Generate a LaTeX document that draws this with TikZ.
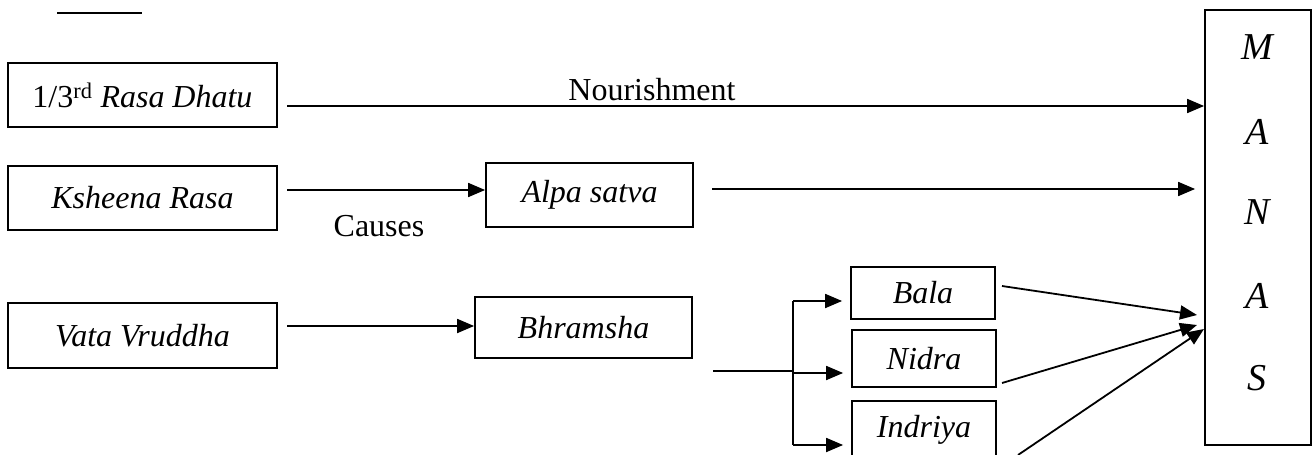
\documentclass[tikz,border=0pt]{standalone}
\usepackage{fontspec}
\setmainfont{Liberation Serif}
\usetikzlibrary{arrows.meta}
\begin{document}
\begin{tikzpicture}[x=1pt,y=-1pt,
  box/.style={draw, line width=1.8pt, inner sep=0pt,
    font=\fontsize{32}{38}\selectfont\itshape},
  lbl/.style={inner sep=0pt, font=\fontsize{32}{38}\selectfont},
  letter/.style={inner sep=0pt, font=\fontsize{38}{44}\selectfont\itshape},
  arr/.style={line width=1.8pt, -{Triangle[length=17pt,width=14pt]}},
  ln/.style={line width=1.8pt}]
\useasboundingbox (0,0) rectangle (1315,455);

% short rule at the top left
\coordinate (ul1) at (57,13);
\coordinate (ul2) at (142,13);
\draw[line width=1.5pt] (ul1) -- (ul2);

% left column
\node[box, minimum width=269pt, minimum height=64pt] (rasa) at (142.5,95)
  {\upshape 1/3\textsuperscript{rd} \itshape Rasa Dhatu};
\node[box, minimum width=269pt, minimum height=64pt] (ksh) at (142.5,198) {Ksheena Rasa};
\node[box, minimum width=269pt, minimum height=65pt] (vata) at (142.5,335.5) {Vata Vruddha};

% middle column
\node[box, minimum width=207pt, minimum height=64pt] (alpa) at (589.5,195) {Alpa satva};
\node[box, minimum width=217pt, minimum height=61pt] (bhr) at (583.5,327.5) {Bhramsha};

% effects of Bhramsha
\node[box, minimum width=144pt, minimum height=52pt] (bala) at (923,293) {Bala};
\node[box, minimum width=144pt, minimum height=57pt] (nidra) at (924,358.5) {Nidra};
\node[box, minimum width=144pt, minimum height=58pt] (indr) at (924,430) {Indriya};

% MANAS column
\node[draw, line width=1.8pt, minimum width=106pt, minimum height=435pt] (manas) at (1258,227.5) {};
\node[letter] (m1) at (1257,47) {M};
\node[letter] (m2) at (1257,132) {A};
\node[letter] (m3) at (1257,212) {N};
\node[letter] (m4) at (1257,296) {A};
\node[letter] (m5) at (1257,378) {S};

% row 1
\coordinate (a1) at (287,106);
\draw[arr] (a1) -- (a1 -| manas.west);
\node[lbl] (nour) at (652,90) {Nourishment};

% row 2
\coordinate (a2) at (287,190);
\draw[arr] (a2) -- (a2 -| alpa.west);
\node[lbl] (causes) at (379,226) {Causes};
\coordinate (a3) at (712,189);
\draw[arr, shorten >=9pt] (a3) -- (a3 -| manas.west);

% row 3
\coordinate (a4) at (287,326);
\draw[arr] (a4) -- (a4 -| bhr.west);
\coordinate (br0) at (713,371);
\coordinate (brx) at (793,371);
\coordinate (brt) at (793,301);
\coordinate (brm) at (793,373);
\coordinate (brb) at (793,445);
\draw[ln] (br0) -- (brx);
\draw[ln] (brt) -- (brb);
\draw[arr, shorten >=8pt] (brt) -- (brt -| bala.west);
\draw[arr, shorten >=8pt] (brm) -- (brm -| nidra.west);
\draw[arr, shorten >=8pt] (brb) -- (brb -| indr.west);

% converging arrows into MANAS
\coordinate (f1) at (1002,286);
\coordinate (f1e) at (1197,315);
\coordinate (f2) at (1002,383);
\coordinate (f2e) at (1197,325);
\coordinate (f3) at (1018,455);
\coordinate (f3e) at (1204,329);
\draw[arr] (f1) -- (f1e);
\draw[arr] (f2) -- (f2e);
\draw[arr] (f3) -- (f3e);
\end{tikzpicture}
\end{document}
